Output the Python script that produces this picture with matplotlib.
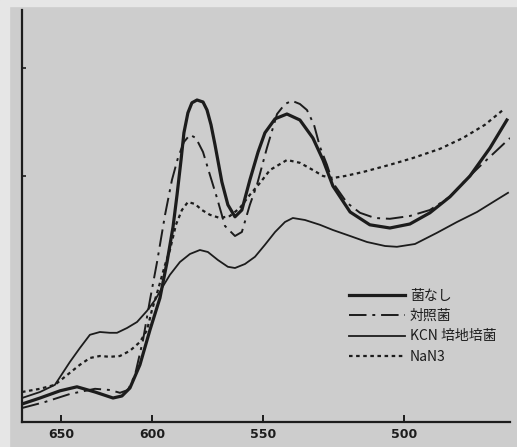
import numpy as np
import matplotlib.pyplot as plt
from matplotlib.patches import Rectangle

plt.rcParams['font.family'] = ['Noto Sans CJK JP', 'DejaVu Sans']

# wavelength (nm) / absorbance (arbitrary units)
wl_none = [671.4, 661.5, 650.5, 641.2, 631.3, 621.4, 616.5, 612.1, 606.6, 601.1,
           596.4, 593.2, 590.5, 588.7, 586.9, 585.6, 583.8, 582.0, 579.7, 577.0,
           575.2, 573.4, 571.6, 568.5, 565.8, 562.6, 559.5, 555.9, 552.2, 549.3,
           545.7, 541.5, 536.9, 532.3, 528.7, 525.2, 519.1, 512.1, 505.0, 497.9,
           490.8, 483.7, 476.6, 469.5, 463.5]
od_none = [0.045, 0.06, 0.078, 0.088, 0.075, 0.06, 0.065, 0.085, 0.143, 0.23,
           0.31, 0.40, 0.488, 0.568, 0.655, 0.723, 0.773, 0.798, 0.805, 0.80,
           0.78, 0.743, 0.693, 0.60, 0.543, 0.513, 0.53, 0.605, 0.675, 0.723,
           0.758, 0.77, 0.755, 0.71, 0.655, 0.59, 0.525, 0.493, 0.485, 0.495,
           0.523, 0.563, 0.615, 0.685, 0.755]

wl_ctrl = [671.4, 658.8, 645.1, 631.3, 623.1, 617.6, 613.2, 609.3, 604.9, 601.1,
           597.7, 594.1, 591.0, 588.3, 585.6, 582.9, 580.2, 577.0, 573.9, 570.7,
           567.1, 562.6, 559.5, 555.9, 552.7, 548.6, 545.0, 542.2, 539.7, 536.9,
           534.4, 531.9, 529.8, 527.3, 525.2, 520.2, 515.6, 510.3, 505.0, 497.9,
           490.8, 483.7, 479.1, 473.0, 467.7, 462.4]
od_ctrl = [0.035, 0.05, 0.07, 0.083, 0.08, 0.073, 0.08, 0.118, 0.205, 0.305,
           0.40, 0.518, 0.605, 0.66, 0.70, 0.718, 0.71, 0.675, 0.618, 0.56,
           0.49, 0.465, 0.475, 0.543, 0.593, 0.685, 0.77, 0.795, 0.803, 0.795,
           0.78, 0.743, 0.688, 0.643, 0.598, 0.548, 0.523, 0.51, 0.508, 0.515,
           0.53, 0.563, 0.598, 0.64, 0.675, 0.71]

wl_kcn = [671.4, 661.5, 653.3, 645.1, 639.6, 634.1, 628.6, 623.1, 619.2, 613.7,
          608.2, 602.7, 598.6, 595.5, 591.9, 587.4, 582.9, 578.4, 574.8, 570.3,
          565.8, 562.6, 558.1, 553.6, 549.3, 545.7, 542.2, 539.4, 535.1, 529.8,
          525.2, 519.1, 513.1, 506.7, 502.5, 496.1, 488.3, 481.2, 474.1, 467.7,
          463.1]
od_kcn = [0.06, 0.075, 0.093, 0.15, 0.185, 0.218, 0.225, 0.223, 0.223, 0.235,
          0.25, 0.278, 0.305, 0.335, 0.368, 0.40, 0.42, 0.43, 0.425, 0.405,
          0.388, 0.385, 0.395, 0.413, 0.443, 0.475, 0.50, 0.51, 0.505, 0.493,
          0.48, 0.465, 0.45, 0.44, 0.438, 0.445, 0.473, 0.50, 0.525, 0.553,
          0.573]

wl_nan3 = [671.4, 661.5, 653.3, 645.1, 639.6, 634.1, 628.6, 623.1, 617.6, 612.1,
           606.6, 602.7, 600.0, 597.3, 594.1, 591.9, 589.2, 586.5, 583.8, 580.6,
           577.5, 573.9, 569.4, 564.9, 560.4, 555.9, 551.3, 547.5, 541.5, 536.9,
           532.3, 528.7, 525.2, 520.9, 514.5, 505.0, 496.8, 487.2, 479.1, 471.3,
           464.9]
od_nan3 = [0.075, 0.083, 0.093, 0.123, 0.143, 0.16, 0.165, 0.163, 0.165, 0.178,
           0.20, 0.23, 0.28, 0.33, 0.393, 0.43, 0.493, 0.53, 0.55, 0.545,
           0.53, 0.518, 0.51, 0.515, 0.535, 0.568, 0.598, 0.63, 0.655, 0.648,
           0.63, 0.615, 0.61, 0.615, 0.625, 0.643, 0.66, 0.683, 0.71, 0.743,
           0.78]

labels = ['菌なし', '対照菌', 'KCN 培地培菌', 'NaN3']
xticks = [650, 600, 550, 500]

# the printed wavelength axis is not linear: map through the tick positions
_wl = [420, 500, 550, 600, 650, 700]
_px = [629.6, 404, 263, 152, 61, -30]


def fwd(x):
    return -np.interp(x, _wl, _px)


def inv(v):
    return np.interp(v, [-p for p in _px], _wl)


ink = '#1c1c1c'
fig = plt.figure(figsize=(5.17, 4.47), dpi=100, facecolor='#cdcdcd')
fig.patches.append(Rectangle((0, 0), 9 / 517, 1, transform=fig.transFigure,
                             color='#e6e6e6', zorder=0))
fig.patches.append(Rectangle((0, 1 - 6 / 447), 1, 6 / 447, transform=fig.transFigure,
                             color='#e6e6e6', zorder=0))
ax = fig.add_axes([22 / 517, 25 / 447, 488 / 517, 412 / 447])
ax.set_facecolor('none')
ax.set_xscale('function', functions=(fwd, inv))

ax.plot(wl_none, od_none, color=ink, lw=2.3, label=labels[0])
ax.plot(wl_ctrl, od_ctrl, color=ink, lw=1.4, dashes=(9, 3, 1.5, 3), label=labels[1])
ax.plot(wl_kcn, od_kcn, color=ink, lw=1.3, label=labels[2])
ax.plot(wl_nan3, od_nan3, color=ink, lw=1.6, dashes=(1.6, 1.6), label=labels[3])

ax.set_xlim(671.4, 462.4)
ax.set_ylim(0, 1.03)
ax.spines['top'].set_visible(False)
ax.spines['right'].set_visible(False)
ax.spines['left'].set_color(ink)
ax.spines['bottom'].set_color(ink)
ax.spines['left'].set_linewidth(1.6)
ax.spines['bottom'].set_linewidth(1.6)

ax.set_xticks(xticks)
ax.set_xticklabels([str(t) for t in xticks])
ax.tick_params(axis='x', direction='in', length=5, width=1.4, color=ink,
               labelsize=9, labelcolor=ink, pad=4)
ax.set_yticks([0.615, 0.885])
ax.set_yticklabels([])
ax.tick_params(axis='y', direction='in', length=3, width=1.2, color=ink)
for t in ax.get_xticklabels():
    t.set_fontweight('bold')
    t.set_family(['DejaVu Sans'])

leg = ax.legend(loc='upper left', bbox_to_anchor=(342 / 517, 1 - 282 / 447),
                bbox_transform=fig.transFigure, frameon=False, fontsize=10,
                handlelength=4.0, handletextpad=0.4, labelspacing=0.45,
                borderpad=0, labelcolor=ink)

fig.savefig('out.png', dpi=100, facecolor=fig.get_facecolor())
